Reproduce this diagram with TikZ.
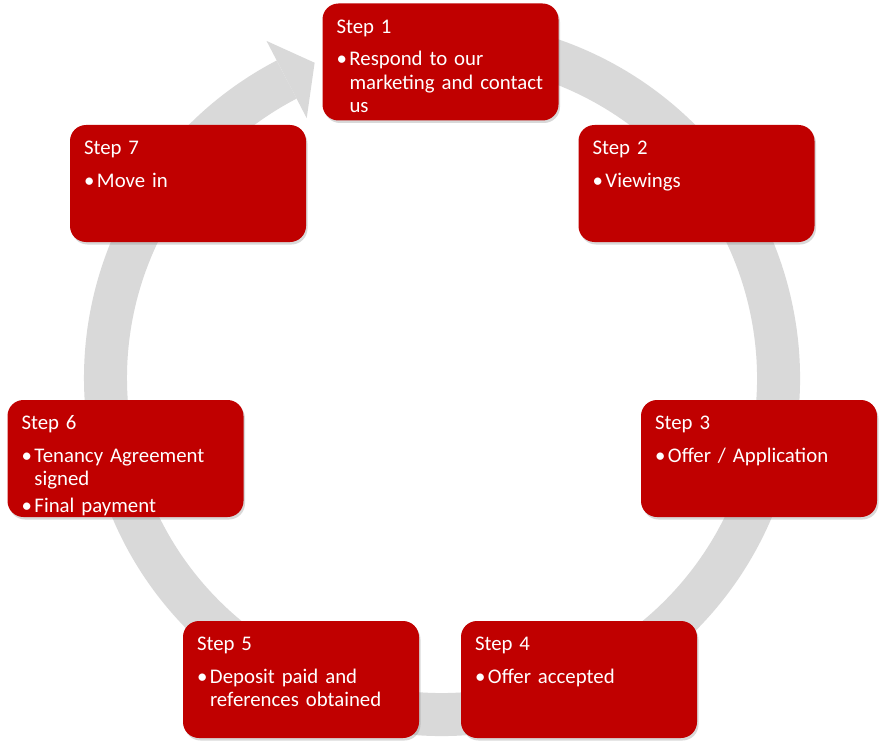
\documentclass[tikz,border=0pt]{standalone}
\usepackage{fontspec}
\setmainfont{Carlito}
\usepackage{xcolor}
\usepackage{tikz}
\usetikzlibrary{shadows}
\definecolor{stepred}{HTML}{C00000}
\definecolor{ringgray}{HTML}{D9D9D9}
\newcommand{\steptitle}[1]{\raggedright\noindent#1\par\vspace{6pt}}
\newcommand{\stepitem}[1]{\par\vspace{3pt}\hangindent=13pt\hangafter=1\noindent\makebox[13pt][l]{\textbullet}#1\par}

\begin{document}
\begin{tikzpicture}[
    x=1pt, y=-1pt,
    stepbox/.style={fill=stepred, rounded corners=16pt, minimum width=236pt, minimum height=117pt, inner sep=0pt,
      drop shadow={shadow xshift=1.5pt, shadow yshift=-2.5pt, opacity=0.3}},
    steptext/.style={anchor=base west, text=white, text width=220pt, inner sep=0pt,
      font=\fontsize{20.8}{23.5}\selectfont},
    ring/.style={draw=ringgray, line width=43pt}
]
\fill[white] (0,0) rectangle (888,749);
\useasboundingbox (0,0) rectangle (888,749);

% cycle arrow behind the steps
\coordinate (hub) at (442,378);
\draw[ring] ([shift={(-100:336.5)}]hub) arc[start angle=-100, end angle=242.5, radius=336.5];
\fill[ringgray] ([shift={(-117.5:380)}]hub) -- ([shift={(-112:340)}]hub) -- ([shift={(-117.5:293)}]hub) -- cycle;

\node[stepbox] (step1) at (440.5,62) {};
\node[stepbox] (step2) at (696.5,183.5) {};
\node[stepbox] (step3) at (759,458.5) {};
\node[stepbox] (step4) at (579,679.5) {};
\node[stepbox] (step5) at (301,679.5) {};
\node[stepbox] (step6) at (125.5,458.5) {};
\node[stepbox] (step7) at (188,183.5) {};

\node[steptext] (step1text) at ([xshift=14pt,yshift=-30pt]step1.north west) {\steptitle{Step 1}\stepitem{Respond to our\newline marketing and contact\newline us}};
\node[steptext] (step2text) at ([xshift=14pt,yshift=-30pt]step2.north west) {\steptitle{Step 2}\stepitem{Viewings}};
\node[steptext] (step3text) at ([xshift=14pt,yshift=-30pt]step3.north west) {\steptitle{Step 3}\stepitem{Offer / Application}};
\node[steptext] (step4text) at ([xshift=14pt,yshift=-30pt]step4.north west) {\steptitle{Step 4}\stepitem{Offer accepted}};
\node[steptext] (step5text) at ([xshift=14pt,yshift=-30pt]step5.north west) {\steptitle{Step 5}\stepitem{Deposit paid and\newline references obtained}};
\node[steptext] (step6text) at ([xshift=14pt,yshift=-30pt]step6.north west) {\steptitle{Step 6}\stepitem{Tenancy Agreement\newline signed}\stepitem{Final payment}};
\node[steptext] (step7text) at ([xshift=14pt,yshift=-30pt]step7.north west) {\steptitle{Step 7}\stepitem{Move in}};
\end{tikzpicture}
\end{document}
